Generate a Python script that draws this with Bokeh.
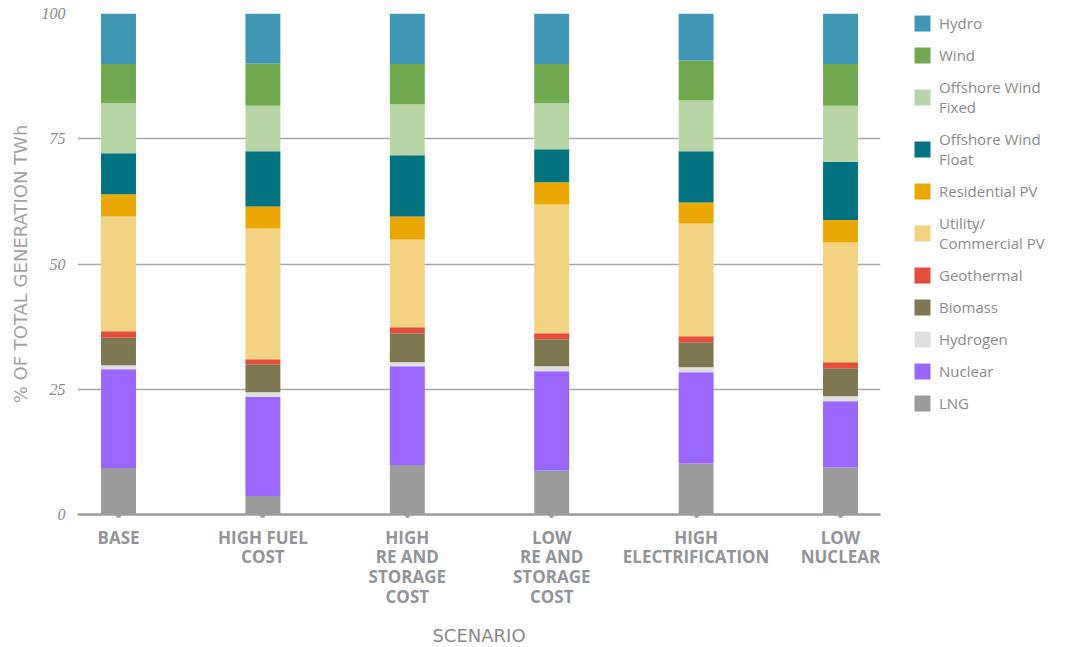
from bokeh.plotting import figure
from bokeh.models import ColumnDataSource, Range1d, FixedTicker, Legend, LegendItem
from bokeh.embed import file_html
from bokeh.resources import INLINE

scenarios = ["BASE", "HIGH FUEL\nCOST", "HIGH\nRE AND\nSTORAGE\nCOST",
             "LOW\nRE AND\nSTORAGE\nCOST", "HIGH\nELECTRIFICATION", "LOW\nNUCLEAR"]

lng = [9.3, 3.7, 9.9, 8.8, 10.2, 9.4]
nuclear = [19.7, 19.8, 19.7, 19.8, 18.2, 13.2]
hydrogen = [0.8, 0.9, 0.8, 1.0, 1.0, 1.0]
biomass = [5.5, 5.6, 5.8, 5.4, 5.0, 5.6]
geothermal = [1.3, 1.0, 1.2, 1.2, 1.2, 1.2]
utility_pv = [22.9, 26.1, 17.5, 25.7, 22.5, 23.9]
residential_pv = [4.4, 4.4, 4.6, 4.4, 4.2, 4.5]
offshore_float = [8.2, 11.0, 12.2, 6.6, 10.2, 11.6]
offshore_fixed = [10.0, 9.1, 10.2, 9.2, 10.2, 11.2]
wind = [7.8, 8.4, 8.0, 7.8, 7.9, 8.3]
hydro = [10.1, 10.0, 10.1, 10.1, 9.4, 10.1]

series_names = ["LNG", "Nuclear", "Hydrogen", "Biomass", "Geothermal",
                "Utility/\nCommercial PV", "Residential PV", "Offshore Wind\nFloat",
                "Offshore Wind\nFixed", "Wind", "Hydro"]
series_values = [lng, nuclear, hydrogen, biomass, geothermal, utility_pv,
                 residential_pv, offshore_float, offshore_fixed, wind, hydro]
colors = ["#9b9b9b", "#9966ff", "#e0e0e0", "#7d7852", "#e44d3a", "#f2d382",
          "#eba800", "#027381", "#b8d5a8", "#70a84f", "#3f96b5"]

keys = ["s%d" % i for i in range(len(series_names))]
data = {"x": list(range(len(scenarios)))}
for k, v in zip(keys, series_values):
    data[k] = v
source = ColumnDataSource(data)

GRAY = "#929497"
p = figure(frame_width=803, frame_height=501, output_backend="svg", toolbar_location=None,
           x_range=Range1d(-0.284, 5.277), y_range=Range1d(0, 100),
           min_border_left=77, min_border_right=10, min_border_top=13,
           min_border_bottom=10)
p.outline_line_color = None

renderers = p.vbar_stack(keys, x="x", width=0.242, source=source,
                         color=colors, line_color=None)

items = [LegendItem(label=n, renderers=[r]) for n, r in zip(series_names, renderers)]
items = items[::-1]
legend = Legend(items=items, location=(32, 101), padding=0, margin=0,
                spacing=12, glyph_width=20, glyph_height=20, label_height=20,
                label_standoff=7, border_line_color=None, background_fill_alpha=0,
                label_text_font="Open Sans", label_text_font_size="15px",
                label_text_color="#8a8a8a", label_text_line_height=1.0)
p.add_layout(legend, "right")
p.min_border_right = 185

# grid
p.xgrid.grid_line_color = None
p.ygrid.grid_line_color = "#a8a8a8"
p.ygrid.grid_line_width = 1.5
p.yaxis.ticker = FixedTicker(ticks=[0, 25, 50, 75, 100])

# y axis
p.yaxis.axis_line_color = None
p.yaxis.major_tick_line_color = None
p.yaxis.major_tick_out = 0
p.yaxis.major_tick_in = 0
p.yaxis.minor_tick_line_color = None
p.yaxis.major_label_text_font = "Liberation Serif"
p.yaxis.major_label_text_font_style = "italic"
p.yaxis.major_label_text_font_size = "16px"
p.yaxis.major_label_text_color = "#8a8a8a"
p.yaxis.major_label_standoff = 12
p.yaxis.axis_label = "% OF TOTAL GENERATION TWh"
p.yaxis.axis_label_text_font = "DejaVu Sans"
p.yaxis.axis_label_text_font_style = "normal"
p.yaxis.axis_label_text_font_size = "18px"
p.yaxis.axis_label_text_color = "#a3a3a3"
p.yaxis.axis_label_standoff = 8

# x axis
p.xaxis.ticker = FixedTicker(ticks=list(range(len(scenarios))))
p.xaxis.major_label_overrides = {i: s for i, s in enumerate(scenarios)}
p.xaxis.axis_line_color = "#9b9b9b"
p.xaxis.axis_line_width = 2.5
p.xaxis.major_tick_line_color = "#9b9b9b"
p.xaxis.major_tick_line_width = 5
p.xaxis.major_tick_line_cap = "round"
p.xaxis.major_tick_out = 1
p.xaxis.major_tick_in = 0
p.xaxis.minor_tick_line_color = None
p.xaxis.major_label_text_font = "Open Sans"
p.xaxis.major_label_text_font_style = "bold"
p.xaxis.major_label_text_font_size = "17px"
p.xaxis.major_label_text_color = GRAY
p.xaxis.major_label_text_line_height = 0.86
p.xaxis.major_label_standoff = 10
p.xaxis.axis_label = "SCENARIO"
p.xaxis.axis_label_text_font = "DejaVu Sans"
p.xaxis.axis_label_text_font_style = "normal"
p.xaxis.axis_label_text_font_size = "18px"
p.xaxis.axis_label_text_color = "#8a8a8a"
p.xaxis.axis_label_standoff = 14

open("out.html", "w").write(file_html(p, INLINE))
